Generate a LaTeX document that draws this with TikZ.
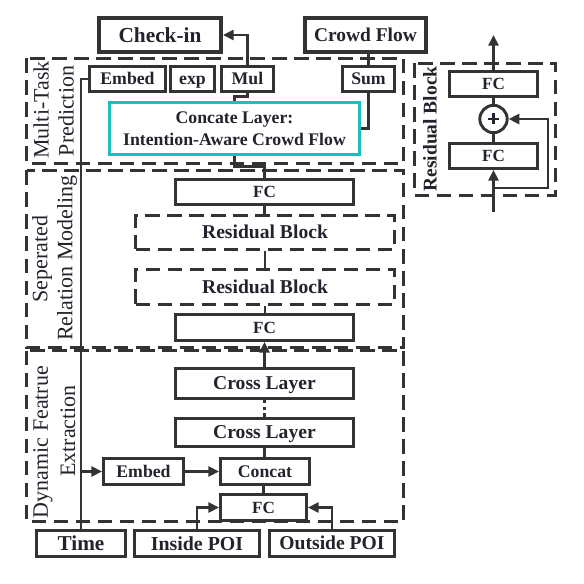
\documentclass[tikz,border=0pt]{standalone}
\usepackage{fontspec}
\setmainfont{Liberation Serif}
\usetikzlibrary{arrows.meta,calc}
\definecolor{lc}{RGB}{51,51,51}
\definecolor{tc}{RGB}{35,35,45}
\definecolor{cy}{RGB}{30,190,190}
\tikzset{
  box/.style={draw=lc, line width=2.2pt, fill=white, text=tc, inner sep=0pt, align=center},
  dashbox/.style={box, dash pattern=on 11pt off 5.5pt},
  dbox/.style={draw=lc, line width=2.2pt, dash pattern=on 11pt off 5.5pt},
  ln/.style={draw=lc, line width=2.2pt},
  arr/.style={ln, -{Triangle[length=8pt,width=7.5pt]}},
  slabel/.style={rotate=90, text=tc, inner sep=0pt, font=\fontsize{16.5}{19}\selectfont},
  fa/.style={text height=10.1pt, text depth=1.33pt, font=\bfseries\fontsize{13.3}{16.5}\selectfont},
  fb/.style={text height=11.2pt, text depth=1.47pt, font=\bfseries\fontsize{14.7}{17}\selectfont},
  fc/.style={text height=9.73pt, text depth=1.28pt, font=\bfseries\fontsize{12.8}{15}\selectfont},
  outbox/.style={box, line width=3pt},
}
\begin{document}
\begin{tikzpicture}[x=0.75pt,y=-0.75pt]
\useasboundingbox (0,0) rectangle (584,584);

% section containers
\draw[dbox] (26.5,58.5) rectangle (403.5,163.5);
\draw[dbox] (26.5,170.5) rectangle (403.5,347.5);
\draw[dbox] (26.5,350.5) rectangle (403.5,521.5);
\draw[dbox] (414.5,63.5) rectangle (555.5,195.5);

% section labels
\node[slabel] (l1a) at (41,110) {Multi-Task};
\node[slabel] (l1b) at (66,111) {Prediction};
\node[slabel] (l2a) at (42,259) {Seperated};
\node[slabel] (l2b) at (67,258) {Relation Modeling};
\node[slabel] (l3a) at (43,442) {Dynamic Featrue};
\node[slabel] (l3b) at (68,431) {Extraction};
\node[slabel, font=\bfseries\fontsize{14.6}{17}\selectfont] (l4) at (430,129) {Residual Block};

% top outputs
\node[outbox, minimum width=91.5pt, minimum height=25.5pt, text height=12.16pt, text depth=1.6pt, font=\bfseries\fontsize{16}{19}\selectfont] (checkin) at (160,35) {Check-in};
\node[outbox, minimum width=90.75pt, minimum height=25.5pt, text height=11.1pt, text depth=1.46pt, font=\bfseries\fontsize{14.6}{17}\selectfont] (crowd) at (365.5,35) {Crowd Flow};

% multi-task prediction
\node[box, fa, minimum width=57pt, minimum height=18.75pt] (embedT) at (127.5,79) {Embed};
\node[box, fa, minimum width=33pt, minimum height=18.75pt] (exp) at (192.5,79) {exp};
\node[box, fa, minimum width=39pt, minimum height=18.75pt] (mul) at (247.5,79) {Mul};
\node[box, fa, minimum width=39pt, minimum height=18.75pt] (sum) at (368.5,79) {Sum};
\node[box, draw=cy, font=\bfseries\fontsize{13.3}{16.5}\selectfont, minimum width=187.5pt, minimum height=39pt] (concate) at (234.5,128.5) {Concate Layer:\\Intention-Aware Crowd Flow};

% separated relation modeling
\node[box, fc, minimum width=133.5pt, minimum height=18.75pt] (fc1) at (264.5,192) {FC};
\node[dashbox, fb, minimum width=194.25pt, minimum height=25.5pt] (rb1) at (265,232.5) {Residual Block};
\node[dashbox, fb, minimum width=194.25pt, minimum height=26pt] (rb2) at (265,287) {Residual Block};
\node[box, fc, minimum width=133.5pt, minimum height=19.5pt] (fc2) at (264.5,327.5) {FC};

% dynamic feature extraction
\node[box, fb, minimum width=133.5pt, minimum height=22.5pt] (cl1) at (264.5,383.5) {Cross Layer};
\node[box, fb, minimum width=133.5pt, minimum height=21pt] (cl2) at (264.5,432.5) {Cross Layer};
\node[box, fa, minimum width=66.75pt, minimum height=19.5pt] (concat) at (265,471.5) {Concat};
\node[box, fa, minimum width=60pt, minimum height=19.5pt] (embedB) at (143.5,471.5) {Embed};
\node[box, fc, minimum width=64.5pt, minimum height=19.5pt] (fcB) at (263.5,507.5) {FC};

% inputs
\node[box, minimum width=66.75pt, minimum height=19.5pt, text height=12.08pt, text depth=1.59pt, font=\bfseries\fontsize{15.9}{18}\selectfont] (time) at (81,543.5) {Time};
\node[box, minimum width=93.75pt, minimum height=19.5pt, text height=11.3pt, text depth=1.49pt, font=\bfseries\fontsize{14.9}{17}\selectfont] (inside) at (197,543.5) {Inside POI};
\node[box, fb, minimum width=93.75pt, minimum height=19.5pt] (outside) at (332,543.5) {Outside POI};

% residual block panel
\node[box, fc, minimum width=66pt, minimum height=18.75pt] (rfc1) at (493.5,84) {FC};
\node[box, fc, minimum width=66pt, minimum height=18.75pt] (rfc2) at (493.5,156) {FC};
\node[circle, draw=lc, line width=2.2pt, fill=white, minimum size=20.5pt, inner sep=0pt] (plus) at (493.5,119) {};
\draw[draw=tc, line width=2.2pt] (plus.center) +(-5.5,0) -- +(5.5,0);
\draw[draw=tc, line width=2.2pt] (plus.center) +(0,-5.5) -- +(0,5.5);
\coordinate (rout) at (493.5,35);
\coordinate (rin) at (493.5,212);
\coordinate (rskip) at (548,188);

% connectors: top
\draw[arr] (mul.north) |- (checkin.east);
\draw[ln] (sum.north) -- (sum.north |- crowd.south);
\draw[ln] (concate.east) -| (sum.south);
\draw[ln] (mul.south) -- ++(0,4) -| (concate.north);
\draw[ln] (concate.south) -- ++(0,11) -| (fc1.north);

% separated relation
\draw[ln] (fc1.south) -- (fc1.south |- rb1.north);
\draw[ln] (rb1.south) -- (rb2.north);
\draw[ln] (rb2.south) -- (rb2.south |- fc2.north);
\draw[arr] (cl1.north) -- (fc2.south);

% dynamic feature
\draw[ln, dash pattern=on 2.5pt off 2.5pt] (cl1.south) -- (cl2.north);
\draw[ln] (cl2.south) -- (cl2.south |- concat.north);
\draw[ln] (fcB.north) -- (fcB.north |- concat.south);
\draw[arr] (embedB.east) -- (concat.west);
\draw[ln] (time.north) |- (embedT.west);
\draw[arr] (time.north |- embedB.west) -- (embedB.west);
\draw[arr] (inside.north) |- (fcB.west);
\draw[arr] (outside.north) |- (fcB.east);

% residual panel connectors
\draw[arr] (rfc1.north) -- (rout);
\draw[ln] (rfc1.south) -- (plus.north);
\draw[ln] (plus.south) -- (rfc2.north);
\draw[arr] (rin) -- (rfc2.south);
\draw[arr] (rin |- rskip) -- (rskip) |- (plus.east);
\end{tikzpicture}
\end{document}
